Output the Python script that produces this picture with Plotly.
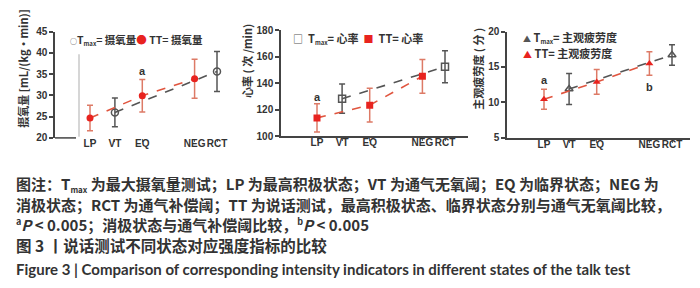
import plotly.graph_objects as go

W, H = 700, 288

# ---------------- data ----------------
states = ["LP", "VT", "EQ", "NEG", "RCT"]
state_pos = [1, 2, 3.1, 5.2, 6.1]          # category positions on the x axis
tt_states = ["LP", "EQ", "NEG"]
tmax_states = ["VT", "RCT"]

vo2_tt = [24.7, 29.9, 33.9]
vo2_tt_sd = [3.0, 3.8, 4.6]
vo2_tmax = [26.0, 35.6]
vo2_tmax_sd = [3.4, 4.7]

hr_tt = [113.9, 123.5, 145.2]
hr_tt_sd = [10.7, 12.6, 12.7]
hr_tmax = [128.3, 152.4]
hr_tmax_sd = [11.0, 12.0]

rpe_tt = [10.45, 12.9, 15.5]
rpe_tt_sd = [1.4, 1.75, 1.65]
rpe_tmax = [11.9, 16.7]
rpe_tmax_sd = [2.2, 1.45]

pos = dict(zip(states, state_pos))

RED = "#e8231f"
RED_ERR = "#dd7a66"
GRAY = "#555555"
AX = "#444444"
TXT = "#333333"
NUM_FONT = "Liberation Sans"
CJK = "Noto Sans CJK SC"

panels = [
    dict(tt=vo2_tt, tt_sd=vo2_tt_sd, tm=vo2_tmax, tm_sd=vo2_tmax_sd,
         tt_sym="circle", tm_sym="circle-open",
         yr=(20, 45), dt=5, left=47, right=232, top=18.3, bottom=129.3, lp=82, rct=209,
         ytitle="摄氧量 [mL/(kg・min)]", tx=15, ty=57),
    dict(tt=hr_tt, tt_sd=hr_tt_sd, tm=hr_tmax, tm_sd=hr_tmax_sd,
         tt_sym="square", tm_sym="square-open",
         yr=(100, 180), dt=20, left=273, right=460, top=16.7, bottom=127.7, lp=309, rct=437,
         ytitle="心率 ( 次 /min)", tx=239, ty=49),
    dict(tt=rpe_tt, tt_sd=rpe_tt_sd, tm=rpe_tmax, tm_sd=rpe_tmax_sd,
         tt_sym="triangle-up", tm_sym="triangle-up-open",
         yr=(5, 20), dt=5, left=499, right=682, top=18.3, bottom=129.3, lp=536, rct=664,
         ytitle="主观疲劳度 ( 分 )", tx=470, ty=57),
]

fig = go.Figure()
annotations = []
shapes = []

for i, p in enumerate(panels, start=1):
    xa = "x" if i == 1 else f"x{i}"
    ya = "y" if i == 1 else f"y{i}"
    ppu = (p["rct"] - p["lp"]) / (state_pos[-1] - state_pos[0])
    x0 = state_pos[0] - (p["lp"] - p["left"]) / ppu
    x1 = state_pos[-1] + (p["right"] - p["rct"]) / ppu

    # Tmax series (gray)
    fig.add_trace(go.Scatter(
        x=[pos[s] for s in tmax_states], y=p["tm"], xaxis=xa, yaxis=ya,
        mode="lines+markers",
        line=dict(color=GRAY, width=1.6, dash="dash"),
        marker=dict(symbol=p["tm_sym"], size=7, color=GRAY, line=dict(width=1.5, color=GRAY)),
        error_y=dict(type="data", array=p["tm_sd"], color=GRAY, thickness=1.5, width=3),
        showlegend=False))
    # TT series (red)
    fig.add_trace(go.Scatter(
        x=[pos[s] for s in tt_states], y=p["tt"], xaxis=xa, yaxis=ya,
        mode="lines+markers",
        line=dict(color="#e0553f", width=1.6, dash="dash"),
        marker=dict(symbol=p["tt_sym"], size=7, color=RED),
        error_y=dict(type="data", array=p["tt_sd"], color=RED_ERR, thickness=1.5, width=3),
        showlegend=False))

    xkey = "xaxis" if i == 1 else f"xaxis{i}"
    ykey = "yaxis" if i == 1 else f"yaxis{i}"
    fig.update_layout(**{
        xkey: dict(domain=[p["left"] / W, p["right"] / W], range=[x0, x1],
                   anchor=ya, tickvals=state_pos, ticktext=states, tickangle=0,
                   showline=(i != 1), linecolor=AX, linewidth=1.5,
                   ticks="outside", ticklen=3, tickcolor="#666", tickwidth=1,
                   ticklabelstandoff=-7,
                   showgrid=False, zeroline=False,
                   tickfont=dict(family=NUM_FONT, size=10, color=TXT, weight="bold")),
        ykey: dict(domain=[1 - p["bottom"] / H, 1 - p["top"] / H],
                   range=list(p["yr"]), anchor=xa,
                   tickvals=list(range(p["yr"][0], p["yr"][1] + 1, p["dt"])),
                   showline=True, linecolor=AX, linewidth=1.5,
                   ticks="outside", ticklen=4, tickcolor=AX, tickwidth=1.5,
                   showgrid=False, zeroline=False,
                   tickfont=dict(family=NUM_FONT, size=10, color=TXT, weight="bold")),
    })
    annotations.append(dict(
        x=p["tx"] / W, y=1 - p["ty"] / H, xref="paper", yref="paper",
        xanchor="center", yanchor="middle",
        text=p["ytitle"], textangle=-90, showarrow=False,
        font=dict(family=CJK, size=11, color=TXT, weight="bold")))

# panel 1 short x-axis stub and faint vertical line
shapes.append(dict(type="line", xref="paper", yref="paper",
                   x0=47 / W, x1=68 / W, y0=1 - 129.3 / H, y1=1 - 129.3 / H,
                   line=dict(color=AX, width=1.5)))
shapes.append(dict(type="line", xref="paper", yref="paper",
                   x0=71 / W, x1=71 / W, y0=1 - 128 / H, y1=1 - 42 / H,
                   line=dict(color="#bbbbbb", width=1.2)))

# significance marks
sig = [("x", "y", "EQ", 35.8, "a"), ("x2", "y2", "LP", 129.5, "a"),
       ("x3", "y3", "LP", 13.2, "a"), ("x3", "y3", "NEG", 12.2, "b")]
for xa, ya, s, yv, t in sig:
    annotations.append(dict(x=pos[s], y=yv, xref=xa, yref=ya, text=t, showarrow=False,
                            font=dict(family=NUM_FONT, size=11, color=TXT, weight="bold")))

# legends (as text)
SUB = "<sub><span style='font-size:6px'>max</span></sub>"


def leg(x, y, text, size=11):
    annotations.append(dict(x=x / W, y=1 - y / H, xref="paper", yref="paper",
                            xanchor="left", yanchor="middle", text=text, showarrow=False,
                            font=dict(family=CJK, size=size, color=TXT, weight="bold")))


leg(60, 27, f"<span style='color:{GRAY};font-size:7px'>○</span>T{SUB}= 摄氧量"
            f"<span style='color:{RED}'>●</span> TT= 摄氧量", size=10.5)
leg(283, 26, f"<span style='color:{GRAY};font-size:10px'>□</span>  T{SUB}= 心率  "
             f"<span style='color:{RED};font-size:10px'>■</span>  TT= 心率")
leg(513, 24, f"<span style='color:{GRAY};font-size:8px'>▲</span> T{SUB}= 主观疲劳度")
leg(513, 41, f"<span style='color:{RED};font-size:9px'>▲</span> TT= 主观疲劳度")

# caption
CSUB = "<sub><span style='font-size:8px'>max</span></sub>"
NB = "\u00a0"
cap = [
    (177, f"图注：T{CSUB} 为最大摄氧量测试；LP 为最高积极状态；VT 为通气无氧阈；EQ 为临界状态；NEG 为", CJK, 15),
    (199, f"消极状态；RCT{NB}为通气补偿阈；TT{NB}为说话测试，最高积极状态、临界状态分别与通气无氧阈比较，", CJK, 15),
    (220, "<sup><span style='font-size:9px'>a</span></sup><i>P</i> < 0.005；消极状态与通气补偿阈比较，"
          "<sup><span style='font-size:9px'>b</span></sup><i>P</i> < 0.005", CJK, 15),
    (241, "图 3 丨说话测试不同状态对应强度指标的比较", CJK, 15.5),
    (266, "Figure 3 | Comparison of corresponding intensity indicators in different states of the talk test", "Lato", 15),
]
for y, t, f, s in cap:
    annotations.append(dict(x=6 / W, y=1 - y / H, xref="paper", yref="paper",
                            xanchor="left", yanchor="middle", text=t, showarrow=False,
                            font=dict(family=f, size=s, color=TXT, weight="bold")))

fig.update_layout(width=W, height=H, margin=dict(l=0, r=0, t=0, b=0),
                  paper_bgcolor="white", plot_bgcolor="white",
                  annotations=annotations, shapes=shapes, showlegend=False)

fig.write_html("out.html")
